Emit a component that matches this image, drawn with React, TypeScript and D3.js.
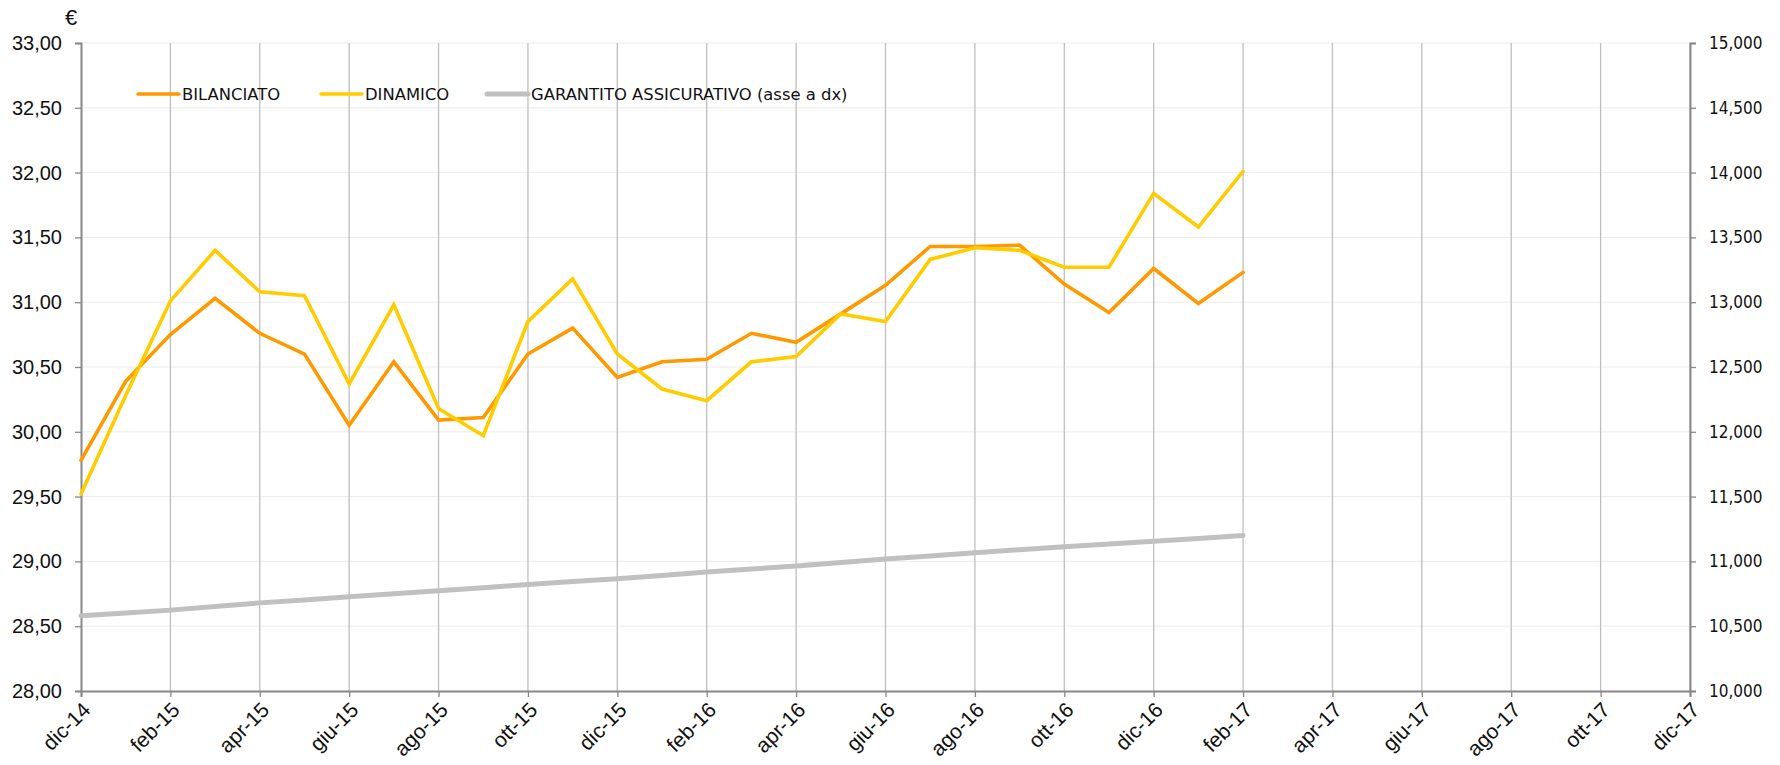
import React, { useEffect, useRef } from 'react';
import * as d3 from 'd3';

// month axis dic-14 .. dic-17
const months = [
  'dic-14', 'gen-15', 'feb-15', 'mar-15', 'apr-15', 'mag-15', 'giu-15', 'lug-15', 'ago-15', 'set-15', 'ott-15', 'nov-15',
  'dic-15', 'gen-16', 'feb-16', 'mar-16', 'apr-16', 'mag-16', 'giu-16', 'lug-16', 'ago-16', 'set-16', 'ott-16', 'nov-16',
  'dic-16', 'gen-17', 'feb-17', 'mar-17', 'apr-17', 'mag-17', 'giu-17', 'lug-17', 'ago-17', 'set-17', 'ott-17', 'nov-17',
  'dic-17',
];
const tickMonths = months.filter((_, i) => i % 2 === 0);

const bilanciato = [
  29.78, 30.39, 30.75, 31.03, 30.76, 30.60, 30.05, 30.54, 30.09, 30.11, 30.60, 30.80,
  30.42, 30.54, 30.56, 30.76, 30.69, 30.91, 31.13, 31.43, 31.43, 31.44, 31.14, 30.92,
  31.26, 30.99, 31.23,
];
const dinamico = [
  29.52, 30.28, 31.01, 31.40, 31.08, 31.05, 30.37, 30.98, 30.18, 29.97, 30.85, 31.18,
  30.60, 30.33, 30.24, 30.54, 30.58, 30.91, 30.85, 31.33, 31.42, 31.40, 31.27, 31.27,
  31.84, 31.58, 32.01,
];
const garantito = [
  10580, 10602, 10624, 10652, 10680, 10703, 10727, 10750, 10773, 10797, 10822, 10844,
  10866, 10892, 10918, 10941, 10964, 10991, 11018, 11042, 11067, 11090, 11113, 11134,
  11155, 11177, 11200,
];

const leftTicks = [28, 28.5, 29, 29.5, 30, 30.5, 31, 31.5, 32, 32.5, 33];
const rightTicks = [10000, 10500, 11000, 11500, 12000, 12500, 13000, 13500, 14000, 14500, 15000];

const legendItems = [
  { label: 'BILANCIATO', color: '#FF9900', w: 3.5, x: 138 },
  { label: 'DINAMICO', color: '#FFCC00', w: 3.5, x: 321 },
  { label: 'GARANTITO ASSICURATIVO (asse a dx)', color: '#C0C0C0', w: 5, x: 487 },
];

export default function App() {
  const svgRef = useRef<SVGSVGElement>(null);

  useEffect(() => {
    document.body.style.margin = '0';
    if (!svgRef.current) return;
    const svg = d3.select(svgRef.current);
    svg.selectAll('*').remove();

    const left = 81, right = 1690, top = 43, bottom = 691;

    const x = d3.scalePoint<string>().domain(months).range([left, right]);
    const yL = d3.scaleLinear().domain([28, 33]).range([bottom, top]);
    const yR = d3.scaleLinear().domain([10000, 15000]).range([bottom, top]);

    // horizontal grid
    svg.append('g')
      .selectAll('line')
      .data(leftTicks.slice(1))
      .enter()
      .append('line')
      .attr('x1', left).attr('x2', right)
      .attr('y1', d => yL(d)).attr('y2', d => yL(d))
      .attr('stroke', '#ececec').attr('stroke-width', 1);

    // vertical grid
    svg.append('g')
      .selectAll('line')
      .data(tickMonths.slice(1))
      .enter()
      .append('line')
      .attr('x1', d => x(d)!).attr('x2', d => x(d)!)
      .attr('y1', top).attr('y2', bottom)
      .attr('stroke', '#bfbfbf').attr('stroke-width', 1.3);

    const fmtL = (d: number) => d.toFixed(2).replace('.', ',');
    const fmtR = d3.format(',');

    // left axis
    const gL = svg.append('g')
      .attr('transform', `translate(${left},0)`)
      .call(d3.axisLeft(yL).tickValues(leftTicks).tickFormat(d => fmtL(+d)).tickSize(6).tickPadding(13));
    gL.selectAll('text')
      .style('font-family', '"Liberation Sans", Arial, sans-serif')
      .style('font-size', '20px')
      .style('fill', '#111');

    // right axis
    const gR = svg.append('g')
      .attr('transform', `translate(${right},0)`)
      .call(d3.axisRight(yR).tickValues(rightTicks).tickFormat(d => fmtR(+d)).tickSize(6).tickPadding(13));
    gR.selectAll('text')
      .style('font-family', '"DejaVu Sans Condensed", "DejaVu Sans", sans-serif')
      .style('font-stretch', 'condensed')
      .style('font-size', '17px')
      .style('fill', '#111');

    // bottom axis
    const gX = svg.append('g')
      .attr('transform', `translate(0,${bottom})`)
      .call(d3.axisBottom(x).tickValues(tickMonths).tickSize(6).tickFormat(d => d as string));
    gX.selectAll('text')
      .attr('text-anchor', 'end')
      .attr('transform', 'translate(5,15) rotate(-45)')
      .attr('dy', '0.35em')
      .attr('y', 0)
      .style('font-family', '"Liberation Sans", Arial, sans-serif')
      .style('font-size', '21px')
      .style('fill', '#111');

    [gL, gR, gX].forEach(g => {
      g.select('.domain').attr('stroke', '#888').attr('stroke-width', 2);
      g.selectAll('.tick line').attr('stroke', '#888').attr('stroke-width', 1.3);
    });

    // euro label
    svg.append('text')
      .attr('x', 71).attr('y', 25)
      .attr('text-anchor', 'middle')
      .style('font-family', '"Liberation Sans", Arial, sans-serif')
      .style('font-size', '22px')
      .style('fill', '#111')
      .text('€');

    const dataMonths = months.slice(0, bilanciato.length);

    const lineL = d3.line<number>()
      .x((_, i) => x(dataMonths[i])!)
      .y(d => yL(d));
    const lineR = d3.line<number>()
      .x((_, i) => x(dataMonths[i])!)
      .y(d => yR(d));

    svg.append('path')
      .datum(garantito)
      .attr('fill', 'none')
      .attr('stroke', '#C0C0C0')
      .attr('stroke-width', 5)
      .attr('stroke-linecap', 'round')
      .attr('d', lineR);

    svg.append('path')
      .datum(bilanciato)
      .attr('fill', 'none')
      .attr('stroke', '#FF9900')
      .attr('stroke-width', 3.6)
      .attr('stroke-linecap', 'round')
      .attr('d', lineL);

    svg.append('path')
      .datum(dinamico)
      .attr('fill', 'none')
      .attr('stroke', '#FFCC00')
      .attr('stroke-width', 3.6)
      .attr('stroke-linecap', 'round')
      .attr('d', lineL);

    // legend
    const lg = svg.append('g');
    legendItems.forEach(it => {
      lg.append('line')
        .attr('x1', it.x).attr('x2', it.x + 41)
        .attr('y1', 94).attr('y2', 94)
        .attr('stroke', it.color)
        .attr('stroke-width', it.w)
        .attr('stroke-linecap', 'round');
      lg.append('text')
        .attr('x', it.x + 44).attr('y', 99.5)
        .style('font-family', '"DejaVu Sans", Verdana, sans-serif')
        .style('font-size', '16.4px')
        .style('fill', '#111')
        .text(it.label);
    });
  }, []);

  return <svg ref={svgRef} width={1780} height={765} style={{ display: 'block', background: '#fff' }} />;
}
